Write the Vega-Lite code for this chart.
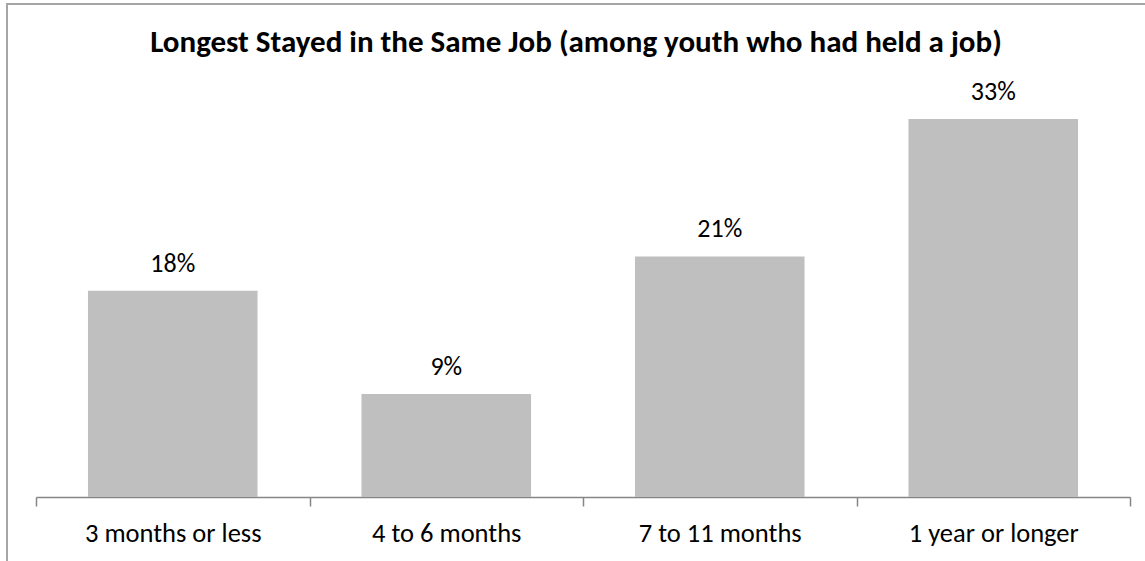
{
  "$schema": "https://vega.github.io/schema/vega-lite/v6.json",
  "width": 1138,
  "height": 557,
  "autosize": {"type": "none"},
  "padding": {"left": 7, "top": 4, "right": 0, "bottom": 0},
  "background": "white",
  "view": {"stroke": "#A6A6A6", "strokeWidth": 2, "strokeDash": [1138, 1695, 1000]},
  "config": {
    "font": "Calibri, Carlito, Lato"
  },
  "title": {
    "text": "Longest Stayed in the Same Job (among youth who had held a job)",
    "orient": "top",
    "anchor": "middle",
    "frame": "group",
    "offset": -79,
    "baseline": "alphabetic",
    "fontSize": 31,
    "fontWeight": "bold",
    "font": "Calibri, Carlito, Lato",
    "color": "#000000"
  },
  "data": {
    "values": [
      {"duration": "3 months or less", "pct": 0.18},
      {"duration": "4 to 6 months", "pct": 0.09},
      {"duration": "7 to 11 months", "pct": 0.21},
      {"duration": "1 year or longer", "pct": 0.33}
    ]
  },
  "encoding": {
    "x": {
      "field": "duration",
      "type": "nominal",
      "sort": null,
      "scale": {"range": [29, 1123], "paddingInner": 0, "paddingOuter": 0},
      "axis": {
        "title": null,
        "orient": "bottom",
        "offset": -64,
        "domainColor": "#868686",
        "domainWidth": 1.5,
        "tickColor": "#868686",
        "tickWidth": 1.5,
        "tickSize": 9,
        "tickBand": "extent",
        "labelAngle": 0,
        "labelFontSize": 26.5,
        "labelColor": "#000000",
        "labelPadding": 35,
        "labelBaseline": "alphabetic",
        "grid": false
      }
    },
    "y": {
      "field": "pct",
      "type": "quantitative",
      "scale": {"domain": [0, 0.35], "range": [493, 92], "nice": false, "zero": true},
      "axis": null
    }
  },
  "layer": [
    {"mark": {"type": "bar", "color": "#BFBFBF", "width": {"band": 0.62}}},
    {
      "mark": {"type": "text", "baseline": "alphabetic", "dy": -19, "fontSize": 26, "color": "#000000"},
      "encoding": {"text": {"field": "pct", "type": "quantitative", "format": ".0%"}}
    }
  ]
}
